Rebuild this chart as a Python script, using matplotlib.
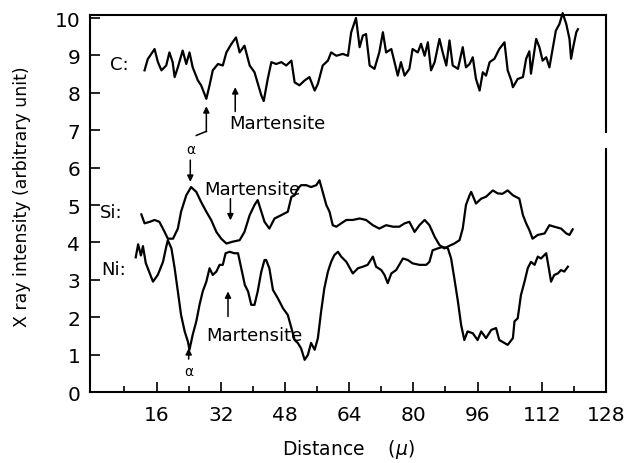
"""Lijnscan van de röntgenintensiteit (C, Si, Ni) over de afstand."""
import matplotlib.pyplot as plt

# C-signaal
c_x = [13.0, 13.8, 15.5, 16.3, 17.2, 18.4, 19.2, 20.0, 20.5, 21.3, 22.5, 23.4, 24.2, 25.0,
       26.3, 27.1, 28.4, 29.2, 30.0, 31.3, 32.5, 33.4, 34.6, 35.8, 36.7, 37.9, 39.2, 40.4,
       42.1, 42.7, 43.7, 44.6, 45.8, 47.1, 48.3, 49.6, 50.4, 51.6, 52.9, 54.1, 55.4, 56.2,
       57.4, 58.7, 59.5, 60.8, 62.4, 63.7, 64.5, 65.7, 66.6, 67.4, 68.2, 69.1, 70.3, 71.5,
       72.4, 73.2, 74.5, 75.3, 76.1, 76.9, 77.8, 79.0, 79.8, 81.1, 81.9, 82.8, 83.6, 84.4,
       85.3, 86.5, 87.3, 88.2, 89.0, 89.8, 91.1, 92.3, 93.1, 94.0, 94.8, 95.6, 96.5, 97.3,
       98.1, 99.0, 100.2, 101.4, 102.7, 103.5, 104.4, 104.8, 106.0, 107.3, 108.1, 108.9,
       109.3, 110.6, 111.4, 112.2, 113.1, 113.9, 114.7, 115.5, 116.4, 117.2, 118.1, 118.9,
       119.3, 119.9, 120.6, 121.0]
c_y = [8.6, 8.9, 9.17, 8.83, 8.6, 8.73, 9.08, 8.82, 8.42, 8.68, 9.13, 8.77, 9.08, 8.68,
       8.33, 8.2, 7.84, 8.2, 8.6, 8.77, 8.73, 9.08, 9.3, 9.48, 9.08, 9.26, 8.73, 8.55,
       7.93, 7.78, 8.37, 8.82, 8.77, 8.82, 8.73, 8.86, 8.28, 8.2, 8.33, 8.42, 8.06, 8.24,
       8.73, 8.86, 9.08, 8.99, 9.04, 8.99, 9.62, 10.0, 9.22, 9.53, 9.57, 8.73, 8.64, 9.08,
       9.62, 9.08, 9.17, 8.82, 8.46, 8.82, 8.46, 8.64, 9.17, 9.08, 9.31, 8.99, 9.35, 8.6,
       8.82, 9.44, 9.08, 8.73, 9.4, 8.73, 8.64, 9.22, 8.68, 8.77, 8.95, 8.37, 8.06, 8.55,
       8.46, 8.82, 8.91, 9.17, 9.35, 8.6, 8.33, 8.15, 8.37, 8.42, 8.91, 9.11,
       8.51, 9.44, 9.22, 8.86, 8.95, 8.68, 9.17, 9.66, 9.84, 10.13, 9.84, 9.44,
       8.91, 9.26, 9.62, 9.7]

# Si-signaal
si_x = [12.2, 13.0, 14.3, 15.5, 16.7, 18.0, 18.8, 20.1, 21.3, 22.1, 23.4, 24.6, 25.9, 27.1,
        28.4, 29.6, 30.9, 32.1, 33.4, 35.0, 36.7, 37.9, 39.2, 40.4, 41.2, 42.9, 44.1, 45.4,
        47.1, 48.7, 49.6, 50.4, 51.2, 52.0, 53.3, 54.5, 55.8, 56.6, 57.4, 58.3, 59.1, 59.9,
        60.8, 62.0, 63.3, 64.9, 66.6, 68.2, 69.9, 71.5, 73.2, 74.9, 76.5, 77.8, 79.0, 80.3,
        81.5, 82.8, 84.0, 85.3, 86.5, 87.7, 89.0, 90.2, 91.5, 92.3, 93.1, 94.0, 94.4, 95.6,
        96.9, 98.1, 99.8, 101.0, 102.2, 103.5, 104.8, 106.4, 107.3, 108.1, 108.9, 109.7,
        111.0, 112.7, 113.9, 115.1, 116.8, 118.1, 118.9, 119.7]
si_y = [4.75, 4.51, 4.55, 4.6, 4.55, 4.28, 4.1, 4.1, 4.37, 4.82, 5.26, 5.48, 5.35, 5.08,
        4.82, 4.6, 4.28, 4.1, 3.97, 4.02, 4.06, 4.28, 4.73, 5.0, 5.13, 4.55, 4.37, 4.64,
        4.73, 4.82, 5.22, 5.26, 5.44, 5.53, 5.53, 5.48, 5.53, 5.66, 5.35, 5.0, 4.82, 4.46,
        4.42, 4.51, 4.6, 4.6, 4.64, 4.6, 4.46, 4.37, 4.46, 4.42, 4.42, 4.51, 4.55, 4.28,
        4.46, 4.6, 4.46, 4.15, 3.93, 3.84, 3.91, 3.97, 4.06, 4.37, 5.0, 5.26, 5.35, 5.04,
        5.17, 5.22, 5.39, 5.31, 5.3, 5.39, 5.26, 5.17, 4.73, 4.51, 4.33, 4.1,
        4.2, 4.24, 4.46, 4.42, 4.37, 4.24, 4.2, 4.35]

# Ni-signaal
ni_x = [10.8, 11.4, 12.1, 12.6, 13.3, 14.2, 15.1, 16.3, 17.6, 18.4, 18.8, 19.7, 20.5, 21.3,
        22.1, 23.0, 23.8, 24.2, 25.0, 25.9, 26.7, 27.5, 28.4, 29.2, 30.0, 30.9, 31.7, 32.5,
        33.2, 34.2, 35.4, 36.3, 37.1, 38.0, 38.8, 39.6, 40.4, 41.2, 42.1, 42.9, 43.3, 44.1,
        45.0, 46.2, 47.5, 48.7, 49.6, 50.4, 51.2, 52.0, 52.9, 53.7, 54.5, 55.4, 56.2, 57.0,
        57.8, 58.7, 59.5, 60.3, 61.2, 62.0, 63.3, 64.9, 66.2, 67.4, 68.6, 69.9, 70.7, 72.0,
        72.8, 73.6, 74.5, 75.7, 77.4, 78.6, 79.8, 81.5, 83.2, 84.0, 84.8, 86.1, 87.3, 88.6,
        89.4, 90.2, 91.1, 91.9, 92.7, 93.5, 94.8, 96.0, 96.9, 98.1, 99.4, 100.6, 101.4,
        102.7, 103.5, 104.8, 105.2, 106.0, 106.8, 107.7, 108.5, 109.3, 110.2, 111.0, 111.8,
        113.1, 113.9, 114.3, 115.1, 116.0, 116.8, 117.6, 118.5]
ni_y = [3.6, 3.95, 3.65, 3.9, 3.45, 3.2, 2.95, 3.13, 3.48, 3.88, 4.06, 3.84, 3.31, 2.69,
        2.06, 1.62, 1.35, 1.13, 1.53, 1.89, 2.33, 2.69, 2.95, 3.31, 3.13, 3.22, 3.4, 3.4,
        3.71, 3.75, 3.71, 3.71, 3.31, 2.86, 2.69, 2.33, 2.33, 2.69, 3.22, 3.53, 3.53, 3.31,
        2.73, 2.51, 2.24, 2.06, 1.71, 1.39, 1.31, 1.17, 0.86, 0.99, 1.31, 1.13, 1.44, 2.15,
        2.77, 3.22, 3.48, 3.66, 3.75, 3.62, 3.48, 3.17, 3.31, 3.35, 3.4, 3.62, 3.35, 3.26,
        3.13, 2.91, 3.17, 3.26, 3.57, 3.53, 3.44, 3.4, 3.4, 3.48, 3.79, 3.84, 3.88, 3.84,
        3.57, 3.04, 2.42, 1.79, 1.39, 1.62, 1.57, 1.39, 1.62, 1.44, 1.66, 1.71, 1.39,
        1.31, 1.26, 1.44, 1.89, 1.97, 2.59, 2.95, 3.31, 3.48, 3.4, 3.62, 3.57,
        3.71, 3.22, 2.95, 3.13, 3.17, 3.26, 3.22, 3.35]

x_ticks = [16, 32, 48, 64, 80, 96, 112, 128]
y_ticks = [0, 1, 2, 3, 4, 5, 6, 7, 8, 9, 10]


def _pijl(ax, start, eind):
    """Teken een eenvoudige zwarte pijl van start naar eind (datacoördinaten)."""
    ax.annotate("", xy=eind, xytext=start,
                arrowprops=dict(arrowstyle="-|>", color="black", lw=1.1,
                                mutation_scale=9, shrinkA=0, shrinkB=0))


def main() -> None:
    fig = plt.figure(figsize=(6.27, 4.64), dpi=100)
    ax = fig.add_axes([0.1435, 0.153, 0.823, 0.8125])

    for x, y in [(c_x, c_y), (si_x, si_y), (ni_x, ni_y)]:
        ax.plot(x, y, color="black", lw=1.6, clip_on=False)

    ax.set_xlim(-0.6, 128)
    ax.set_ylim(0, 10.08)
    ax.set_xticks(x_ticks)
    ax.set_xticks(range(8, 128, 8), minor=True)
    ax.set_yticks(y_ticks)
    ax.tick_params(axis="both", which="major", direction="in", length=7, width=1.2,
                   labelsize=14.5)
    ax.tick_params(axis="x", which="minor", direction="in", length=4.5, width=1.2)
    ax.tick_params(axis="x", pad=9)
    ax.tick_params(axis="y", pad=7)
    for side in ["left", "bottom", "top"]:
        ax.spines[side].set_linewidth(1.5)
    # Rechterrand met een kleine onderbreking
    ax.spines["right"].set_visible(False)
    ax.axvline(128, ymin=0, ymax=6.5 / 10.08, color="black", lw=1.5, clip_on=False)
    ax.axvline(128, ymin=6.96 / 10.08, ymax=1, color="black", lw=1.5, clip_on=False)

    ax.set_xlabel("Distance    ($\\mu$)", fontsize=13.5, labelpad=10)
    ax.set_ylabel("X ray intensity (arbitrary unit)", fontsize=12.5, labelpad=16)
    ax.yaxis.set_label_coords(-0.115, 0.52)

    # Labels van de elementen
    ax.text(4.3, 8.77, "C:", fontsize=13, va="center")
    ax.text(1.8, 4.82, "Si:", fontsize=13, va="center")
    ax.text(2.3, 3.3, "Ni:", fontsize=13, va="center")

    # C: alfa-pijl met knik en martensiet
    ax.plot([25.9, 28.4], [6.86, 6.97], color="black", lw=1.1)
    _pijl(ax, (28.4, 6.96), (28.4, 7.64))
    ax.text(24.6, 6.5, "α", fontsize=10, ha="center", va="center")
    _pijl(ax, (35.6, 7.5), (35.6, 8.15))
    ax.text(34.2, 7.2, "Martensite", fontsize=13, va="center")

    # Si: alfa-piek en martensiet
    _pijl(ax, (24.4, 6.2), (24.4, 5.62))
    ax.text(28.0, 5.44, "Martensite", fontsize=13, va="center")
    _pijl(ax, (34.4, 5.17), (34.4, 4.59))

    # Ni: martensiet en alfa-dal
    _pijl(ax, (33.8, 2.02), (33.8, 2.69))
    ax.text(28.4, 1.53, "Martensite", fontsize=13, va="center")
    _pijl(ax, (24.0, 0.88), (24.0, 1.17))
    ax.text(24.0, 0.57, "α", fontsize=10, ha="center", va="center")

    fig.savefig("out.png", dpi=100)


if __name__ == "__main__":
    main()
